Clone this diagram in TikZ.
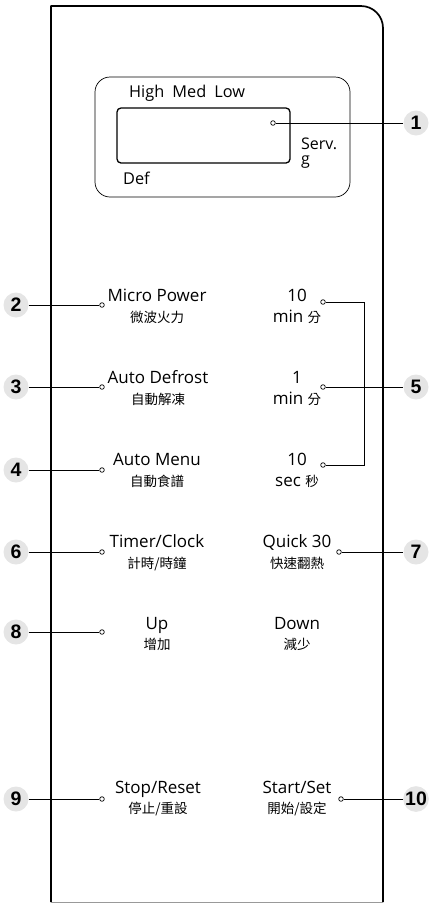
\documentclass[tikz,border=0pt]{standalone}
\usepackage{fontspec}
\setmainfont{Open Sans}
\newfontfamily\cjk{Noto Sans CJK TC}
\newfontfamily\badgefont{Liberation Sans}
\begin{document}
\begin{tikzpicture}[x=1pt,y=-1pt,
  badge/.style={circle,fill=black!10,minimum size=25pt,inner sep=0pt,font=\badgefont\bfseries\fontsize{19.5}{19.5}\selectfont},
  dot/.style={circle,draw=black,line width=0.7pt,fill=white,minimum size=4.6pt,inner sep=0pt},
  lead/.style={line width=0.9pt},
  en/.style={anchor=base,inner sep=0pt,font=\fontsize{17}{17}\selectfont},
  zh/.style={anchor=base,inner sep=0pt,font=\cjk\fontsize{13.5}{13.5}\selectfont},
  disp/.style={anchor=base west,inner sep=0pt,font=\fontsize{16.3}{16.3}\selectfont}]
\useasboundingbox (0,0) rectangle (429,903);
% frame
\draw[line width=1.7pt,line join=round] (51,902) -- (51,6) -- (361,6) arc[start angle=-90,end angle=0,radius=22] -- (383,902);
\draw[black!40,line width=0.8pt] (51,902) -- (383,902);
% display
\draw[line width=0.7pt,rounded corners=15pt] (95,77) rectangle (350,197);
\draw[line width=1.3pt,rounded corners=4pt] (117,108) rectangle (290,163);
\node[disp] (high) at (129,97.5) {High\hspace{0.5em}Med\hspace{0.5em}Low};
\node[disp] (def) at (123,184) {Def};
\node[disp,align=left,font=\fontsize{16}{15}\selectfont] (serv) at (301,164) {Serv.\\g};
% left column texts
\node[en] (t2) at (157,301) {Micro Power};
\node[zh] (z2) at (157,322) {微波火力};
\node[en] (t3) at (158,383) {Auto Defrost};
\node[zh] (z3) at (158,404) {自動解凍};
\node[en] (t4) at (157,465) {Auto Menu};
\node[zh] (z4) at (157,486) {自動食譜};
\node[en] (t6) at (157,547) {Timer/Clock};
\node[zh] (z6) at (157,568) {計時/時鐘};
\node[en] (t8) at (157,629) {Up};
\node[zh] (z8) at (157,649) {增加};
\node[en] (t9) at (158,793) {Stop/Reset};
\node[zh] (z9) at (158,813) {停止/重設};
% right column texts
\node[en] (r1a) at (297,301) {10};
\node[en] (r1b) at (297,322) {min {\cjk\fontsize{13.5}{13.5}\selectfont 分}};
\node[en] (r2a) at (297,383) {1};
\node[en] (r2b) at (297,404) {min {\cjk\fontsize{13.5}{13.5}\selectfont 分}};
\node[en] (r3a) at (297,465) {10};
\node[en] (r3b) at (297,486) {sec {\cjk\fontsize{13.5}{13.5}\selectfont 秒}};
\node[en] (t7) at (297,547) {Quick 30};
\node[zh] (z7) at (297,568) {快速翻熱};
\node[en] (tdown) at (297,629) {Down};
\node[zh] (zdown) at (297,649) {減少};
\node[en] (t10) at (297,793) {Start/Set};
\node[zh] (z10) at (297,813) {開始/設定};
% dots
\node[dot] (d1) at (273,123) {};
\node[dot] (d2) at (102,305) {};
\node[dot] (d3) at (102,387) {};
\node[dot] (d4) at (102,470) {};
\node[dot] (d5a) at (323,302) {};
\node[dot] (d5b) at (323,387) {};
\node[dot] (d5c) at (323,465) {};
\node[dot] (d6) at (102,552) {};
\node[dot] (d7) at (339,552) {};
\node[dot] (d8) at (102,632) {};
\node[dot] (d9) at (102,799) {};
\node[dot] (d10) at (341,799) {};
\coordinate (j5) at (364,302);
% badges
\node[badge] (b1) at (416,123) {1};
\node[badge] (b2) at (16,305) {2};
\node[badge] (b3) at (16,387) {3};
\node[badge] (b4) at (16,470) {4};
\node[badge] (b5) at (416,387) {5};
\node[badge] (b6) at (16,552) {6};
\node[badge] (b7) at (416,552) {7};
\node[badge] (b8) at (16,632) {8};
\node[badge] (b9) at (16,799) {9};
\node[badge] (b10) at (416,799) {10};
% leaders
\draw[lead] (d1) -- (b1);
\draw[lead] (b2) -- (d2);
\draw[lead] (b3) -- (d3);
\draw[lead] (b4) -- (d4);
\draw[lead] (d5a) -- (j5) |- (d5c);
\draw[lead] (d5b) -- (b5);
\draw[lead] (b6) -- (d6);
\draw[lead] (d7) -- (b7);
\draw[lead] (b8) -- (d8);
\draw[lead] (b9) -- (d9);
\draw[lead] (d10) -- (b10);
\end{tikzpicture}
\end{document}
